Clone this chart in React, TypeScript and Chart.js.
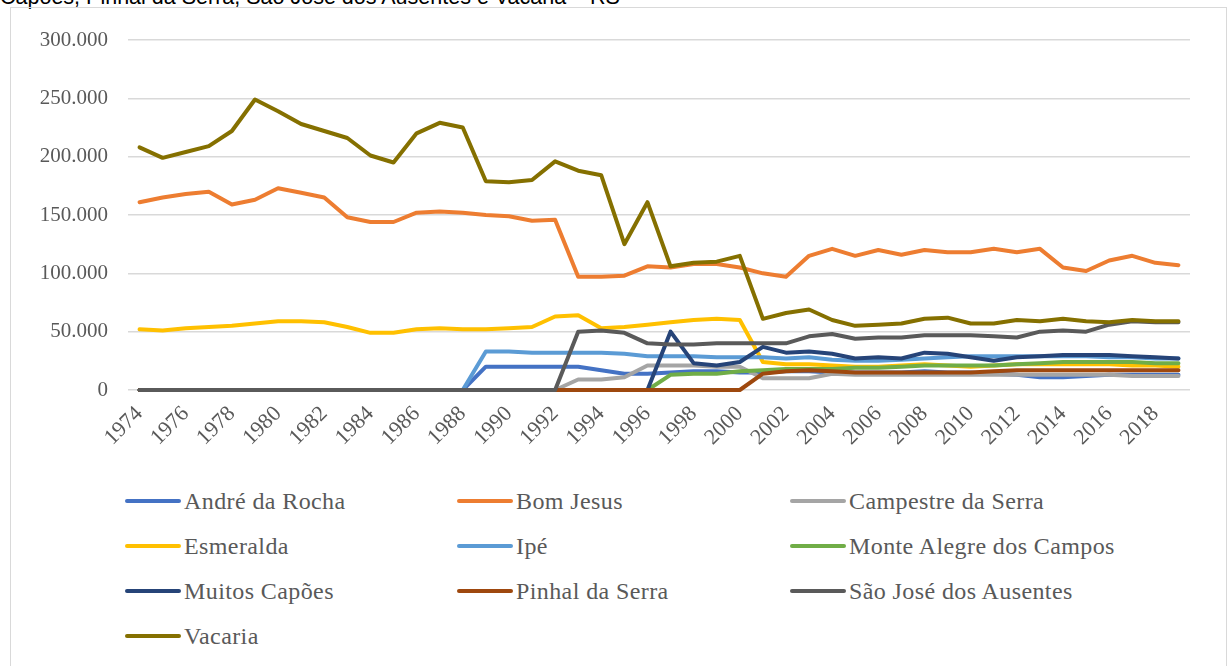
import React, { useEffect, useRef } from 'react';
import { Chart, registerables } from 'chart.js';

Chart.register(...registerables);

const YEARS = [
  '1974', '1975', '1976', '1977', '1978', '1979', '1980', '1981', '1982', '1983',
  '1984', '1985', '1986', '1987', '1988', '1989', '1990', '1991', '1992', '1993',
  '1994', '1995', '1996', '1997', '1998', '1999', '2000', '2001', '2002', '2003',
  '2004', '2005', '2006', '2007', '2008', '2009', '2010', '2011', '2012', '2013',
  '2014', '2015', '2016', '2017', '2018', '2019',
];

const Y_TICKS = [0, 50000, 100000, 150000, 200000, 250000, 300000];

const ANDRE_DA_ROCHA = [
  0, 0, 0, 0, 0, 0, 0, 0, 0, 0, 0, 0, 0, 0, 0,
  20000, 20000, 20000, 20000, 20000, 17000, 14000, 14000, 15000, 16000, 16000,
  15000, 15000, 16000, 16000, 15000, 15000, 15000, 15000, 16000, 15000, 15000,
  14000, 13000, 11000, 11000, 12000, 13000, 13000, 13000, 13000,
];

const BOM_JESUS = [
  161000, 165000, 168000, 170000, 159000, 163000, 173000, 169000, 165000, 148000,
  144000, 144000, 152000, 153000, 152000, 150000, 149000, 145000, 146000, 97000,
  97000, 98000, 106000, 105000, 108000, 108000, 105000, 100000, 97000, 115000,
  121000, 115000, 120000, 116000, 120000, 118000, 118000, 121000, 118000, 121000,
  105000, 102000, 111000, 115000, 109000, 107000,
];

const CAMPESTRE_DA_SERRA = [
  0, 0, 0, 0, 0, 0, 0, 0, 0, 0, 0, 0, 0, 0, 0, 0, 0, 0, 0,
  9000, 9000, 11000, 21000, 21000, 21000, 20000, 20000, 10000, 10000, 10000,
  14000, 13000, 13000, 13000, 13000, 13000, 13000, 13000, 13000, 13000, 13000,
  13000, 13000, 12000, 12000, 12000,
];

const ESMERALDA = [
  52000, 51000, 53000, 54000, 55000, 57000, 59000, 59000, 58000, 54000,
  49000, 49000, 52000, 53000, 52000, 52000, 53000, 54000, 63000, 64000,
  53000, 54000, 56000, 58000, 60000, 61000, 60000, 24000, 22000, 22000,
  21000, 20000, 20000, 21000, 22000, 21000, 20000, 21000, 22000, 22000,
  22000, 22000, 22000, 21000, 21000, 20000,
];

const IPE = [
  0, 0, 0, 0, 0, 0, 0, 0, 0, 0, 0, 0, 0, 0, 0,
  33000, 33000, 32000, 32000, 32000, 32000, 31000, 29000, 29000, 29000, 28000,
  28000, 28000, 27000, 28000, 26000, 25000, 25000, 26000, 27000, 28000, 29000,
  29000, 29000, 29000, 29000, 29000, 28000, 28000, 27000, 27000,
];

const MONTE_ALEGRE_DOS_CAMPOS = [
  0, 0, 0, 0, 0, 0, 0, 0, 0, 0, 0, 0, 0, 0, 0, 0, 0, 0, 0, 0, 0, 0, 0,
  13000, 14000, 14000, 16000, 17000, 18000, 18000, 18000, 19000, 19000, 20000,
  21000, 21000, 21000, 21000, 22000, 23000, 24000, 24000, 24000, 24000, 23000, 23000,
];

const MUITOS_CAPOES = [
  0, 0, 0, 0, 0, 0, 0, 0, 0, 0, 0, 0, 0, 0, 0, 0, 0, 0, 0, 0, 0, 0, 0,
  50000, 23000, 21000, 24000, 37000, 32000, 33000, 31000, 27000, 28000, 27000,
  32000, 31000, 28000, 25000, 28000, 29000, 30000, 30000, 30000, 29000, 28000, 27000,
];

const PINHAL_DA_SERRA = [
  0, 0, 0, 0, 0, 0, 0, 0, 0, 0, 0, 0, 0, 0, 0, 0, 0, 0, 0, 0, 0, 0, 0, 0, 0, 0, 0,
  14000, 16000, 17000, 16000, 15000, 15000, 15000, 15000, 15000, 15000, 16000,
  17000, 17000, 17000, 17000, 17000, 17000, 17000, 17000,
];

const SAO_JOSE_DOS_AUSENTES = [
  0, 0, 0, 0, 0, 0, 0, 0, 0, 0, 0, 0, 0, 0, 0, 0, 0, 0, 0,
  50000, 51000, 49000, 40000, 39000, 39000, 40000, 40000, 40000, 40000, 46000,
  48000, 44000, 45000, 45000, 47000, 47000, 47000, 46000, 45000, 50000, 51000,
  50000, 56000, 59000, 58000, 58000,
];

const VACARIA = [
  208000, 199000, 204000, 209000, 222000, 249000, 239000, 228000, 222000, 216000,
  201000, 195000, 220000, 229000, 225000, 179000, 178000, 180000, 196000, 188000,
  184000, 125000, 161000, 106000, 109000, 110000, 115000, 61000, 66000, 69000,
  60000, 55000, 56000, 57000, 61000, 62000, 57000, 57000, 60000, 59000,
  61000, 59000, 58000, 60000, 59000, 59000,
];

const SERIES_NAMES = [
  'André da Rocha', 'Bom Jesus', 'Campestre da Serra', 'Esmeralda', 'Ipé',
  'Monte Alegre dos Campos', 'Muitos Capões', 'Pinhal da Serra',
  'São José dos Ausentes', 'Vacaria',
];

const SERIES_DATA = [
  ANDRE_DA_ROCHA, BOM_JESUS, CAMPESTRE_DA_SERRA, ESMERALDA, IPE,
  MONTE_ALEGRE_DOS_CAMPOS, MUITOS_CAPOES, PINHAL_DA_SERRA,
  SAO_JOSE_DOS_AUSENTES, VACARIA,
];

const SERIES_COLORS = [
  '#4472C4', '#ED7D31', '#A5A5A5', '#FFC000', '#5B9BD5',
  '#70AD47', '#264478', '#9E480E', '#5A5A5A', '#857000',
];

const CAPTION = 'Capões, Pinhal da Serra, São José dos Ausentes e Vacaria – RS';

const W = 1232;
const CANVAS_H = 480;
const SERIF = '"Liberation Serif", "DejaVu Serif", serif';

function fmt(v: number): string {
  return String(v).replace(/\B(?=(\d{3})+(?!\d))/g, '.');
}

export default function App() {
  const ref = useRef<HTMLCanvasElement>(null);

  useEffect(() => {
    if (!ref.current) return;
    const n = SERIES_DATA.length;
    const chart = new Chart(ref.current, {
      type: 'line',
      data: {
        labels: YEARS,
        datasets: SERIES_DATA.map((d, i) => ({
          label: SERIES_NAMES[i],
          data: d,
          borderColor: SERIES_COLORS[i],
          backgroundColor: SERIES_COLORS[i],
          borderWidth: 4,
          pointRadius: 0,
          pointHoverRadius: 0,
          tension: 0,
          fill: false,
          clip: false as any,
          borderJoinStyle: 'round' as const,
          borderCapStyle: 'round' as const,
          order: n - i,
        })),
      },
      options: {
        animation: false,
        responsive: false,
        devicePixelRatio: 1,
        layout: { padding: { top: 40, right: 42, left: 0, bottom: 0 } },
        plugins: {
          legend: { display: false },
          tooltip: { enabled: false },
        },
        scales: {
          x: {
            type: 'category',
            offset: true,
            grid: { display: false, drawTicks: false },
            border: { display: false },
            ticks: {
              autoSkip: false,
              maxRotation: 45,
              minRotation: 45,
              padding: 11,
              color: '#595959',
              font: { family: SERIF, size: 22 },
              callback: (_v: any, idx: number) => (idx % 2 === 0 ? YEARS[idx] : ''),
            },
            afterFit: (scale: any) => {
              scale.height = CANVAS_H - 390;
            },
          },
          y: {
            min: 0,
            max: 300000,
            afterBuildTicks: (scale: any) => {
              scale.ticks = Y_TICKS.map((v) => ({ value: v }));
            },
            grid: { color: '#D9D9D9', lineWidth: 1.5, drawTicks: false },
            border: { display: false },
            ticks: {
              padding: 20,
              color: '#595959',
              font: { family: SERIF, size: 21 },
              callback: (v: any) => fmt(Number(v)),
            },
            afterFit: (scale: any) => {
              scale.width = 128;
            },
          },
        },
      },
    });
    return () => chart.destroy();
  }, []);

  const colX = [125, 457, 790];

  return (
    <div
      style={{
        position: 'fixed',
        left: 0,
        top: 0,
        width: W,
        height: 666,
        overflow: 'hidden',
        background: '#fff',
      }}
    >
      <div
        style={{
          position: 'absolute',
          left: 0,
          top: -13,
          fontFamily: '"Liberation Sans", Arial, sans-serif',
          fontSize: 21.5,
          lineHeight: '20px',
          color: '#000',
          whiteSpace: 'nowrap',
        }}
      >
        {CAPTION}
      </div>
      <div
        style={{
          position: 'absolute',
          left: 10,
          top: 7,
          width: 1217,
          height: 720,
          border: '1.5px solid #D9D9D9',
          boxSizing: 'border-box',
        }}
      />
      <canvas
        ref={ref}
        width={W}
        height={CANVAS_H}
        style={{ position: 'absolute', left: 0, top: 0, width: W, height: CANVAS_H }}
      />
      {SERIES_NAMES.map((name, i) => {
        const col = i % 3;
        const row = Math.floor(i / 3);
        const cy = 501 + row * 45;
        return (
          <div
            key={name}
            style={{
              position: 'absolute',
              left: colX[col],
              top: cy - 15,
              height: 30,
              display: 'flex',
              alignItems: 'center',
              whiteSpace: 'nowrap',
            }}
          >
            <div
              style={{
                width: 56,
                height: 4,
                background: SERIES_COLORS[i],
                borderRadius: 2,
                marginRight: 3,
              }}
            />
            <span
              style={{
                fontFamily: SERIF,
                fontSize: 24,
                letterSpacing: 0.4,
                color: '#595959',
                lineHeight: '30px',
              }}
            >
              {name}
            </span>
          </div>
        );
      })}
    </div>
  );
}
